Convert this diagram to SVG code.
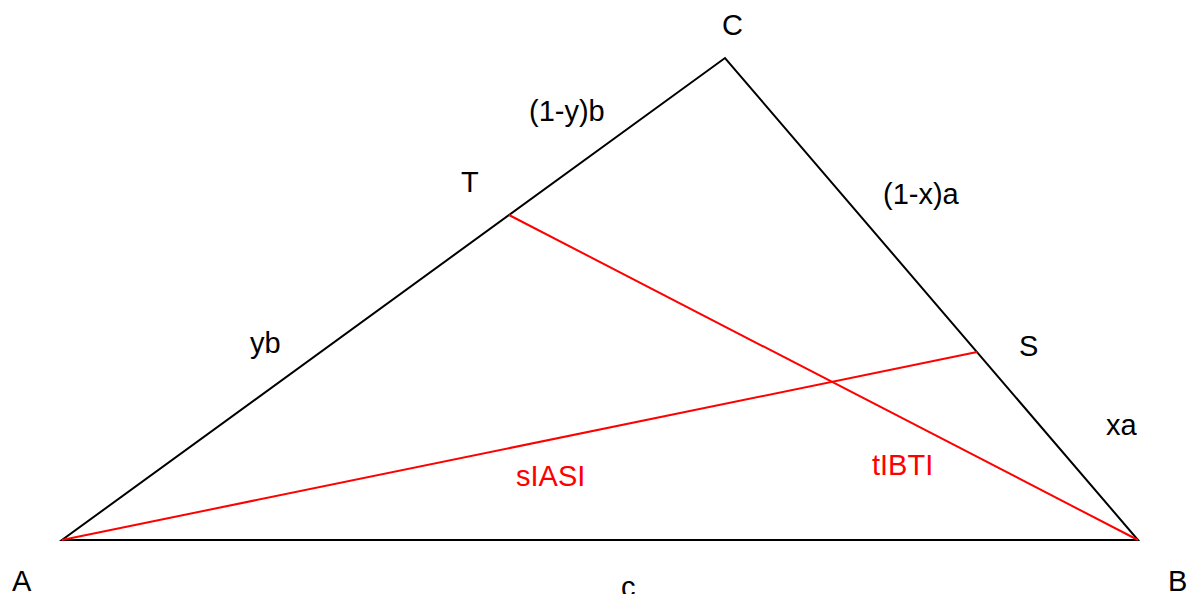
<svg xmlns="http://www.w3.org/2000/svg" width="1188" height="594" viewBox="0 0 1188 594">
<style>
.lbl{font-family:"Liberation Sans",Arial,sans-serif;font-size:29px;fill:#000}
.red{fill:#ff0000}
.edge{stroke:#000;stroke-width:2;fill:none;stroke-linecap:round;stroke-linejoin:miter}
.cev{stroke:#ff0000;stroke-width:2;fill:none}
</style>
<rect width="1188" height="594" fill="#fff"/>
<g id="connectors">
<polygon class="edge" points="62,540 1138,540 725,58"/>
<line class="cev" x1="62" y1="540" x2="977" y2="352"/>
<line class="cev" x1="1138" y1="540" x2="509" y2="215"/>
</g>
<g id="node-A"><text class="lbl" x="12" y="591">A</text></g>
<g id="node-B"><text class="lbl" x="1168" y="591">B</text></g>
<g id="node-C"><text class="lbl" x="722" y="35">C</text></g>
<g id="node-T"><text class="lbl" x="461" y="192">T</text></g>
<g id="node-S"><text class="lbl" x="1019" y="356">S</text></g>
<g id="label-1yb"><text class="lbl" x="529" y="121">(1-y)b</text></g>
<g id="label-yb"><text class="lbl" x="250" y="353">yb</text></g>
<g id="label-1xa"><text class="lbl" x="883" y="204">(1-x)a</text></g>
<g id="label-xa"><text class="lbl" x="1106" y="435">xa</text></g>
<g id="label-c"><text class="lbl" x="621" y="597">c</text></g>
<g id="label-sAS"><text class="lbl red" x="516" y="486">sIASI</text></g>
<g id="label-tBT"><text class="lbl red" x="872" y="475">tIBTI</text></g>
</svg>
